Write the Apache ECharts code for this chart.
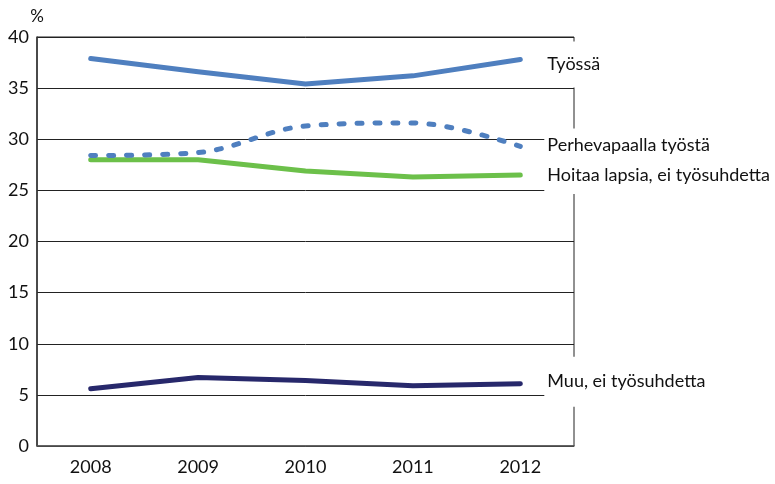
<!DOCTYPE html>
<html>
<head>
<meta charset="utf-8">
<script src="https://cdn.jsdelivr.net/npm/echarts@6/dist/echarts.min.js"></script>
<style>
  html, body { margin: 0; padding: 0; background: #fff; }
  #chart { width: 775px; height: 484px; }
</style>
</head>
<body>
<div id="chart"></div>
<script>
// Years on the category axis
const years = ['2008', '2009', '2010', '2011', '2012'];

// Shares in percent
const tyossa = [37.9, 36.6, 35.4, 36.2, 37.8];
const perhevapaalla = [28.4, 28.7, 31.3, 31.6, 29.3];
const hoitaaLapsia = [28.0, 28.0, 26.9, 26.3, 26.5];
const muu = [5.6, 6.7, 6.4, 5.9, 6.1];

// Series names, drawn as end labels
const names = ['Työssä', 'Perhevapaalla työstä', 'Hoitaa lapsia, ei työsuhdetta', 'Muu, ei työsuhdetta'];

const FONT = 'Lato';

// End label with a white box that breaks the grid lines behind it
function endLabel(padV, offsetY) {
  return {
    show: true,
    formatter: '{a}',
    distance: 24,
    offset: [0, offsetY],
    color: '#111',
    fontFamily: FONT,
    fontSize: 18,
    backgroundColor: '#fff',
    padding: [padV, 4, padV, 3]
  };
}

function lineSeries(name, data, color, padV, offsetY, extra) {
  return Object.assign({
    name: name,
    type: 'line',
    data: data,
    symbol: 'none',
    lineStyle: { color: color, width: 5, cap: 'round', join: 'round' },
    itemStyle: { color: color },
    endLabel: endLabel(padV, offsetY),
    emphasis: { disabled: true },
    silent: true,
    animation: false
  }, extra || {});
}

const chart = echarts.init(document.getElementById('chart'));
chart.setOption({
  animation: false,
  backgroundColor: '#fff',
  grid: {
    left: 37, top: 37, right: 201, bottom: 38,
    show: true, borderColor: '#222', borderWidth: 1
  },
  xAxis: {
    type: 'category',
    data: years,
    boundaryGap: true,
    axisLine: { lineStyle: { color: '#555', width: 1.5 } },
    axisTick: { alignWithLabel: true, length: 10, lineStyle: { color: '#555', width: 1.5 } },
    axisLabel: { color: '#111', fontFamily: FONT, fontSize: 18, margin: 12 },
    splitLine: { show: false }
  },
  yAxis: {
    type: 'value',
    min: 0, max: 40, interval: 5,
    name: '%',
    nameLocation: 'end',
    nameGap: 12,
    nameTextStyle: { color: '#111', fontFamily: FONT, fontSize: 17, align: 'center' },
    axisLine: { show: true, lineStyle: { color: '#333', width: 1.5 } },
    axisTick: { show: false },
    axisLabel: { color: '#111', fontFamily: FONT, fontSize: 18, margin: 8 },
    splitLine: { lineStyle: { color: '#222', width: 1 } }
  },
  series: [
    lineSeries(names[0], tyossa, '#4f7fbf', 14, 5),
    lineSeries(names[2], hoitaaLapsia, '#6cc04a', 10, 0),
    lineSeries(names[1], perhevapaalla, '#4f7fbf', 8, -1, {
      smooth: 0.35,
      lineStyle: { color: '#4f7fbf', width: 5, cap: 'round', type: [5, 13] }
    }),
    lineSeries(names[3], muu, '#27286b', 16, -2)
  ]
});
</script>
</body>
</html>
